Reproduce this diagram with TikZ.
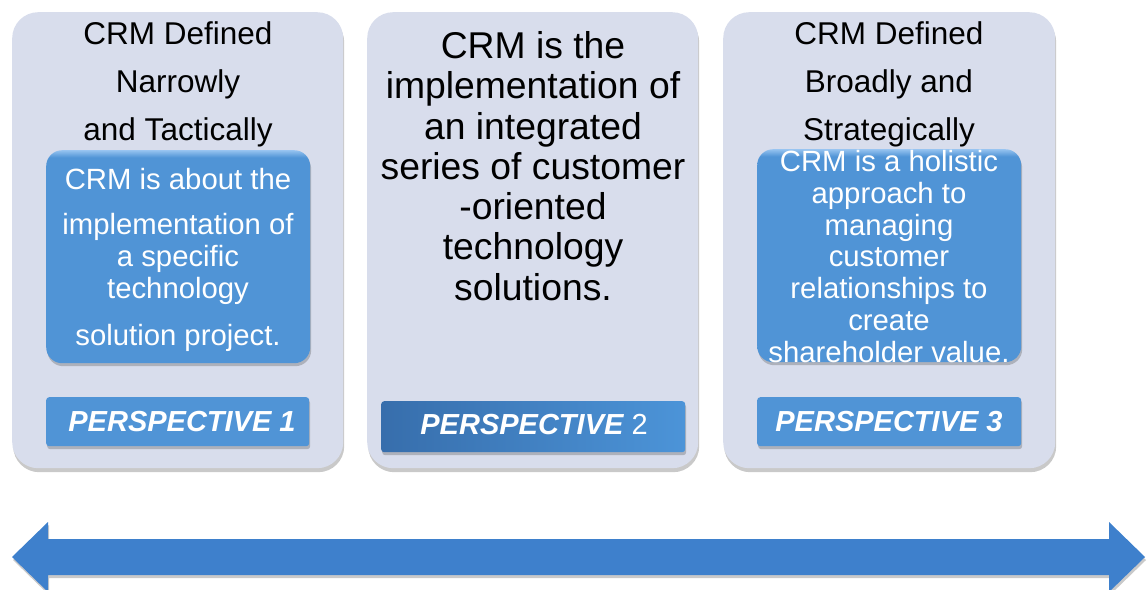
\documentclass[tikz,border=0pt]{standalone}
\usepackage{fontspec}
\setmainfont{Liberation Sans}
\usetikzlibrary{shadows}
\definecolor{panelc}{RGB}{216,221,236}
\definecolor{boxc}{RGB}{80,148,214}
\definecolor{boxhi}{RGB}{150,195,240}
\definecolor{arrowc}{RGB}{62,128,204}
\definecolor{labl}{RGB}{55,110,172}
\definecolor{labr}{RGB}{76,148,216}
\pgfdeclareverticalshading{boxshade}{100bp}{color(0bp)=(boxc); color(73.3bp)=(boxc); color(75bp)=(boxhi); color(100bp)=(boxhi)}
\tikzset{
  panel/.style={fill=panelc, rounded corners=26pt, inner sep=0pt, anchor=north west,
    drop shadow={shadow xshift=1pt, shadow yshift=-4pt, opacity=0.3, fill=black!70}},
  bluebox/.style={shading=boxshade, rounded corners=16pt, inner sep=0pt, anchor=north west,
    drop shadow={shadow xshift=1pt, shadow yshift=-3pt, opacity=0.3, fill=black!70}},
  labelbox/.style={fill=boxc, rounded corners=3pt, inner sep=0pt, anchor=north west,
    drop shadow={shadow xshift=1pt, shadow yshift=-3pt, opacity=0.3, fill=black!70}},
  titletext/.style={align=center, font=\fontsize{31.5}{48}\selectfont, text=black},
  midtext/.style={align=center, font=\fontsize{37.3}{40.3}\selectfont, text=black},
  boxtext/.style={align=center, font=\fontsize{29.3}{31.7}\selectfont, text=white},
  labtext/.style={font=\fontsize{29}{32}\selectfont\bfseries\itshape, text=white},
}
\begin{document}
\begin{tikzpicture}[x=1pt,y=-1pt]
\useasboundingbox (0,0) rectangle (1147,589);
% panels
\node[panel, minimum width=331pt, minimum height=456pt] (p1) at (12,12) {};
\node[panel, minimum width=331pt, minimum height=456pt] (p2) at (367,12) {};
\node[panel, minimum width=332pt, minimum height=456pt] (p3) at (723,12) {};
% titles
\node[titletext] (t1) at (178,84.5) {CRM Defined\\Narrowly\\and Tactically};
\node[titletext] (t3) at (889,84.5) {CRM Defined\\Broadly and\\Strategically};
\node[midtext] (t2) at (533,166) {CRM is the\\implementation of\\an integrated\\series of customer\\-oriented\\technology\\solutions.};
% blue boxes
\node[bluebox, minimum width=264pt, minimum height=213pt] (b1) at (46,150) {};
\node[bluebox, minimum width=264pt, minimum height=213pt] (b3) at (757,149) {};
\node[boxtext] (bt1) at (178,260) {CRM is about the\\[14pt]implementation of\\a specific\\technology\\[16pt]solution project.};
\node[boxtext] (bt3) at (889,256.5) {CRM is a holistic\\approach to\\managing\\customer\\relationships to\\create\\shareholder value.};
% labels
\node[labelbox, minimum width=263pt, minimum height=49pt] (l1) at (46,397) {};
\node[labelbox, minimum width=304pt, minimum height=51pt, fill=none, left color=labl, right color=labr] (l2) at (381,401) {};
\node[labelbox, minimum width=264pt, minimum height=49pt] (l3) at (757,397) {};
\node[labtext] (lt1) at (182,421.5) {PERSPECTIVE 1};
\node[labtext] (lt2) at (534,424.5) {PERSPECTIVE \normalfont\fontsize{29}{32}\selectfont 2};
\node[labtext] (lt3) at (889,421.5) {PERSPECTIVE 3};
% double arrow
\fill[arrowc, drop shadow={shadow xshift=1pt, shadow yshift=-3pt, opacity=0.3, fill=black!70}]
  (12,557) -- (48,522) -- (48,539) -- (1109,539) -- (1109,522) -- (1145,557)
  -- (1109,592) -- (1109,575) -- (48,575) -- (48,592) -- cycle;
\end{tikzpicture}
\end{document}
